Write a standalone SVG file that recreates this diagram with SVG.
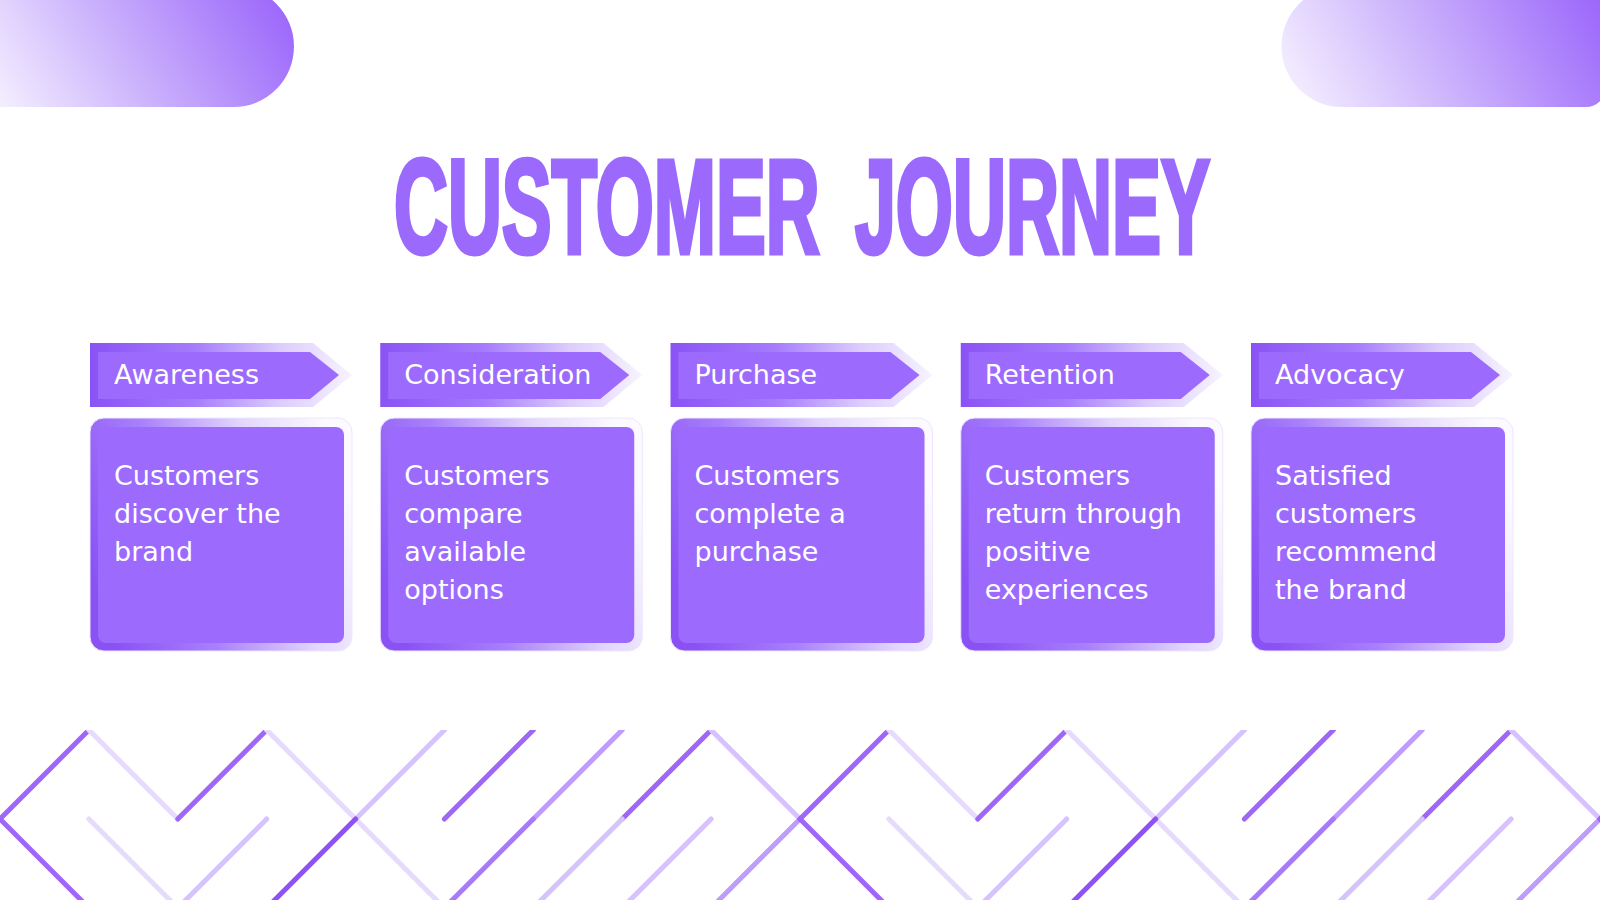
<svg xmlns="http://www.w3.org/2000/svg" xmlns:xlink="http://www.w3.org/1999/xlink" width="1600" height="900" viewBox="0 0 1600 900">
  <defs>
    <style>
      .title { font-family: "Liberation Sans", "Arial", sans-serif; font-weight: 700; font-size: 133px; fill: #9B6AFD; stroke: #9B6AFD; stroke-width: 5; stroke-linejoin: miter; }
      .tagtxt { font-family: "DejaVu Sans", "Open Sans", sans-serif; font-size: 27px; fill: #FFFFFF; }
      .body { font-family: "DejaVu Sans", "Open Sans", sans-serif; font-size: 27px; fill: #FFFFFF; }
      .tag-outer { fill: url(#tagGrad); }
      .tag-inner { fill: #9C6BFE; }
      .box-outer { fill: url(#boxGrad); stroke: #EEE6FE; stroke-width: 1; }
      .box-inner { fill: #9C6BFE; }
      .zz { fill: none; stroke-width: 5; stroke-linecap: round; stroke-linejoin: round; }
      .d { stroke: #A066F8; }
      .d2 { stroke: #9150F5; }
      .f { stroke: #E7DBFD; }
      .ml { stroke: #D6C2FC; }
      .m { stroke: #BE9CFA; }
      .md { stroke: #A77AF8; }
    </style>
    <linearGradient id="tlGrad" gradientUnits="userSpaceOnUse" x1="10" y1="135" x2="270" y2="-30">
      <stop offset="0" stop-color="#F6F2FF"/>
      <stop offset="0.5" stop-color="#C6AAFC"/>
      <stop offset="1" stop-color="#9A64FB"/>
    </linearGradient>
    <linearGradient id="trGrad" gradientUnits="userSpaceOnUse" x1="1300" y1="135" x2="1590" y2="-30">
      <stop offset="0" stop-color="#F8F4FF"/>
      <stop offset="0.5" stop-color="#C8ADFC"/>
      <stop offset="1" stop-color="#9A64FB"/>
    </linearGradient>
    <linearGradient id="tagGrad" x1="0" y1="0" x2="1" y2="0">
      <stop offset="0" stop-color="#8A52F5"/>
      <stop offset="0.4" stop-color="#A57CFB"/>
      <stop offset="0.72" stop-color="#DCCBFD"/>
      <stop offset="1" stop-color="#F7F3FF"/>
    </linearGradient>
    <linearGradient id="boxGrad" x1="0" y1="0.65" x2="1" y2="0.35">
      <stop offset="0" stop-color="#8A52F5"/>
      <stop offset="0.35" stop-color="#A880FB"/>
      <stop offset="0.7" stop-color="#E2D5FD"/>
      <stop offset="1" stop-color="#FCFAFF"/>
    </linearGradient>
    <clipPath id="zzClip">
      <rect x="0" y="730" width="1600" height="170"/>
    </clipPath>
    <g id="zig">
      <line class="zz d" x1="88.9" y1="730" x2="0" y2="819"/>
      <line class="zz d" x1="0" y1="819" x2="88.9" y2="908"/>
      <line class="zz f" x1="88.9" y1="730" x2="177.8" y2="819"/>
      <line class="zz d" x1="177.8" y1="819" x2="266.7" y2="730"/>
      <line class="zz f" x1="266.7" y1="730" x2="444.4" y2="908"/>
      <line class="zz ml" x1="355.6" y1="819" x2="444.4" y2="730"/>
      <line class="zz d2" x1="355.6" y1="819" x2="266.7" y2="908"/>
      <line class="zz f" x1="88.9" y1="819" x2="177.8" y2="908"/>
      <line class="zz ml" x1="266.7" y1="819" x2="177.8" y2="908"/>
      <line class="zz d" x1="444.4" y1="819" x2="533.3" y2="730"/>
      <line class="zz m" x1="622.2" y1="730" x2="533.3" y2="819"/>
      <line class="zz md" x1="533.3" y1="819" x2="444.4" y2="908"/>
      <line class="zz d" x1="711.1" y1="730" x2="622.2" y2="819"/>
      <line class="zz ml" x1="622.2" y1="819" x2="533.3" y2="908"/>
      <line class="zz ml" x1="711.1" y1="730" x2="800" y2="819"/>
      <line class="zz ml" x1="711.1" y1="819" x2="622.2" y2="908"/>
      <line class="zz m" x1="800" y1="819" x2="711.1" y2="908"/>
    </g>
  </defs>

  <rect x="0" y="0" width="1600" height="900" fill="#FFFFFF"/>

  <g id="decor-top">
    <path d="M -100 -14 H 233.5 A 60.5 60.5 0 0 1 233.5 107 H -100 Z" fill="url(#tlGrad)"/>
    <path d="M 1342 -14 H 1606 V 87 A 20 20 0 0 1 1586 107 H 1342 A 60.5 60.5 0 0 1 1342 -14 Z" fill="url(#trGrad)"/>
  </g>

  <g id="title">
    <text class="title" transform="translate(394,253) scale(0.561,1)" x="0" y="0">CUSTOMER</text>
    <text class="title" transform="translate(855,253) scale(0.552,1)" x="0" y="0">JOURNEY</text>
  </g>

  <g id="node-awareness" transform="translate(90,0)">
    <polygon class="tag-outer" points="0,343 223,343 262,375 223,407 0,407"/>
    <polygon class="tag-inner" points="8,352 220,352 249,375 220,399 8,399"/>
    <text class="tagtxt" x="24" y="384">Awareness</text>
    <rect class="box-outer" x="0" y="418" width="262" height="233" rx="14"/>
    <rect class="box-inner" x="8" y="427" width="246" height="216" rx="8"/>
    <text class="body" x="24" y="485">Customers</text>
    <text class="body" x="24" y="523">discover the</text>
    <text class="body" x="24" y="561">brand</text>
  </g>

  <g id="node-consideration" transform="translate(380.25,0)">
    <polygon class="tag-outer" points="0,343 223,343 262,375 223,407 0,407"/>
    <polygon class="tag-inner" points="8,352 220,352 249,375 220,399 8,399"/>
    <text class="tagtxt" x="24" y="384">Consideration</text>
    <rect class="box-outer" x="0" y="418" width="262" height="233" rx="14"/>
    <rect class="box-inner" x="8" y="427" width="246" height="216" rx="8"/>
    <text class="body" x="24" y="485">Customers</text>
    <text class="body" x="24" y="523">compare</text>
    <text class="body" x="24" y="561">available</text>
    <text class="body" x="24" y="599">options</text>
  </g>

  <g id="node-purchase" transform="translate(670.5,0)">
    <polygon class="tag-outer" points="0,343 223,343 262,375 223,407 0,407"/>
    <polygon class="tag-inner" points="8,352 220,352 249,375 220,399 8,399"/>
    <text class="tagtxt" x="24" y="384">Purchase</text>
    <rect class="box-outer" x="0" y="418" width="262" height="233" rx="14"/>
    <rect class="box-inner" x="8" y="427" width="246" height="216" rx="8"/>
    <text class="body" x="24" y="485">Customers</text>
    <text class="body" x="24" y="523">complete a</text>
    <text class="body" x="24" y="561">purchase</text>
  </g>

  <g id="node-retention" transform="translate(960.75,0)">
    <polygon class="tag-outer" points="0,343 223,343 262,375 223,407 0,407"/>
    <polygon class="tag-inner" points="8,352 220,352 249,375 220,399 8,399"/>
    <text class="tagtxt" x="24" y="384">Retention</text>
    <rect class="box-outer" x="0" y="418" width="262" height="233" rx="14"/>
    <rect class="box-inner" x="8" y="427" width="246" height="216" rx="8"/>
    <text class="body" x="24" y="485">Customers</text>
    <text class="body" x="24" y="523">return through</text>
    <text class="body" x="24" y="561">positive</text>
    <text class="body" x="24" y="599">experiences</text>
  </g>

  <g id="node-advocacy" transform="translate(1251,0)">
    <polygon class="tag-outer" points="0,343 223,343 262,375 223,407 0,407"/>
    <polygon class="tag-inner" points="8,352 220,352 249,375 220,399 8,399"/>
    <text class="tagtxt" x="24" y="384">Advocacy</text>
    <rect class="box-outer" x="0" y="418" width="262" height="233" rx="14"/>
    <rect class="box-inner" x="8" y="427" width="246" height="216" rx="8"/>
    <text class="body" x="24" y="485">Satisfied</text>
    <text class="body" x="24" y="523">customers</text>
    <text class="body" x="24" y="561">recommend</text>
    <text class="body" x="24" y="599">the brand</text>
  </g>

  <g id="connectors"/>

  <g id="decor-bottom" clip-path="url(#zzClip)">
    <use xlink:href="#zig" x="0" y="0"/>
    <use xlink:href="#zig" x="800" y="0"/>
    <use xlink:href="#zig" x="1600" y="0"/>
  </g>
</svg>
